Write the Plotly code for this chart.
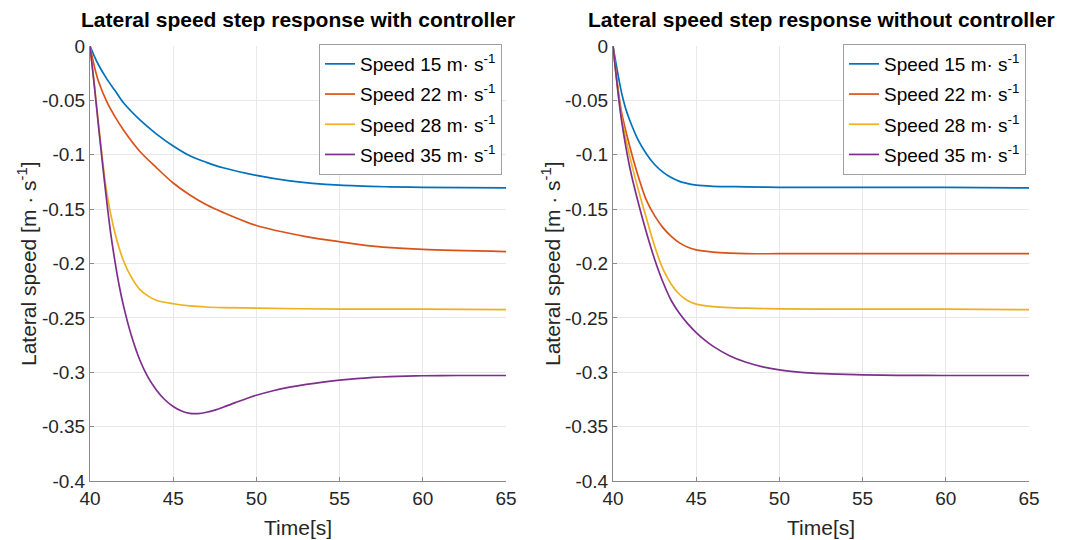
import plotly.graph_objects as go

# ---------------- data ----------------
speeds = ["15", "22", "28", "35"]
colors = ["#0072BD", "#D95319", "#EDB120", "#7E2F8E"]

# With controller
t_w15 = [40, 40.25, 40.5, 41, 41.5, 42, 43, 44, 45, 46, 47, 48, 50, 52, 55, 58, 60, 65]
v_w15 = [0, -0.009, -0.017, -0.030, -0.041, -0.052, -0.068, -0.081, -0.092, -0.101, -0.107,
         -0.112, -0.119, -0.124, -0.128, -0.1295, -0.130, -0.1305]

t_w22 = [40, 40.25, 40.5, 41, 41.5, 42, 43, 44, 45, 46, 47, 48, 50, 52.9, 55, 57, 60, 65]
v_w22 = [0, -0.018, -0.032, -0.051, -0.065, -0.077, -0.097, -0.112, -0.126, -0.137, -0.146,
         -0.153, -0.165, -0.175, -0.180, -0.184, -0.187, -0.189]

t_w28 = [40, 40.25, 40.5, 40.75, 41, 41.5, 42, 42.5, 43, 43.5, 44, 45, 46, 47, 48, 50, 55, 60, 65]
v_w28 = [0, -0.034, -0.070, -0.104, -0.134, -0.172, -0.197, -0.213, -0.224, -0.230, -0.234,
         -0.237, -0.239, -0.240, -0.2405, -0.241, -0.242, -0.242, -0.2425]

t_w35 = [40, 40.25, 40.5, 40.75, 41, 41.25, 41.5, 41.75, 42, 42.5, 43, 43.5, 44, 44.5, 45, 45.5,
         46, 46.5, 47, 47.5, 48, 48.5, 49, 49.5, 50, 51, 52, 53, 54, 55, 56, 57, 58, 59, 60, 62, 65]
v_w35 = [0, -0.035, -0.072, -0.108, -0.142, -0.173, -0.198, -0.220, -0.238, -0.267, -0.289,
         -0.305, -0.3165, -0.3253, -0.3315, -0.3357, -0.3378, -0.338, -0.3368, -0.3348, -0.3322,
         -0.3293, -0.3264, -0.3237, -0.3212, -0.317, -0.3137, -0.3111, -0.309, -0.3073,
         -0.3059, -0.3048, -0.304, -0.3035, -0.3032, -0.303, -0.303]

# Without controller
t_n15 = [40, 40.25, 40.5, 40.75, 41, 41.5, 42, 42.5, 43, 43.5, 44, 44.5, 45, 46, 48, 50, 55, 60, 65]
v_n15 = [0, -0.022, -0.042, -0.057, -0.068, -0.086, -0.099, -0.109, -0.116, -0.121, -0.1245,
         -0.1265, -0.128, -0.129, -0.1295, -0.130, -0.130, -0.130, -0.1305]

t_n22 = [40, 40.25, 40.5, 41, 41.5, 42, 42.5, 43, 43.5, 44, 44.5, 45, 46, 47, 48, 50, 55, 60, 65]
v_n22 = [0, -0.033, -0.060, -0.092, -0.119, -0.1415, -0.156, -0.167, -0.175, -0.181, -0.185,
         -0.1875, -0.1895, -0.1905, -0.191, -0.191, -0.191, -0.191, -0.191]

t_n28 = [40, 40.25, 40.5, 41, 41.5, 42, 42.5, 43, 43.5, 44, 44.5, 45, 45.5, 46, 47, 48, 50, 55, 60, 65]
v_n28 = [0, -0.035, -0.064, -0.101, -0.131, -0.158, -0.184, -0.205, -0.219, -0.2285, -0.2343,
         -0.2373, -0.2388, -0.2396, -0.2405, -0.241, -0.2417, -0.242, -0.242, -0.2425]

t_n35 = [40, 40.25, 40.5, 41, 41.5, 42, 42.5, 43, 43.5, 44, 44.5, 45, 45.5, 46, 47, 48, 49, 50,
         51, 52, 53, 54, 55, 57, 60, 65]
v_n35 = [0, -0.036, -0.067, -0.111, -0.143, -0.171, -0.196, -0.217, -0.234, -0.246, -0.2555,
         -0.2635, -0.2703, -0.276, -0.2848, -0.2908, -0.295, -0.2978, -0.2996, -0.3008,
         -0.3015, -0.302, -0.3024, -0.3028, -0.303, -0.303]

with_ctrl = [(t_w15, v_w15), (t_w22, v_w22), (t_w28, v_w28), (t_w35, v_w35)]
without_ctrl = [(t_n15, v_n15), (t_n22, v_n22), (t_n28, v_n28), (t_n35, v_n35)]

x_ticks = [40, 45, 50, 55, 60, 65]
y_ticks = [0, -0.05, -0.1, -0.15, -0.2, -0.25, -0.3, -0.35, -0.4]
y_tick_text = ["0", "-0.05", "-0.1", "-0.15", "-0.2", "-0.25", "-0.3", "-0.35", "-0.4"]

titles = ["Lateral speed step response with controller",
          "Lateral speed step response without controller"]

# ---------------- figure ----------------
W, H = 1067, 540
FONT = "Liberation Sans, Arial, sans-serif"
fig = go.Figure()

for i, (t, v) in enumerate(with_ctrl):
    fig.add_trace(go.Scatter(x=t, y=v, mode="lines",
                             line=dict(color=colors[i], width=1.7, shape="spline", smoothing=0.8),
                             name=f"Speed {speeds[i]} m· s<sup>-1</sup>",
                             legendgroup=f"a{i}",
                             xaxis="x", yaxis="y", legend="legend"))
for i, (t, v) in enumerate(without_ctrl):
    fig.add_trace(go.Scatter(x=t, y=v, mode="lines",
                             line=dict(color=colors[i], width=1.7, shape="spline", smoothing=0.8),
                             name=f"Speed {speeds[i]} m· s<sup>-1</sup>",
                             legendgroup=f"b{i}",
                             xaxis="x2", yaxis="y2", legend="legend2"))

x_dom = [[90 / W, 506 / W], [613 / W, 1029 / W]]
y_dom = [1 - 481 / H, 1 - 46 / H]

axis_common = dict(showgrid=True, gridcolor="#e8e8e8", gridwidth=1,
                   showline=True, linecolor="#8a8a8a", linewidth=1,
                   ticks="inside", ticklen=4, tickcolor="#8a8a8a",
                   tickfont=dict(family=FONT, size=19, color="#262626"),
                   zeroline=False, mirror=False, automargin=False)

layout = dict(width=W, height=H,
              margin=dict(l=0, r=0, t=0, b=0, pad=0, autoexpand=False),
              paper_bgcolor="white", plot_bgcolor="white",
              showlegend=True, font=dict(family=FONT, color="#262626"))

for k in range(2):
    sx = "" if k == 0 else "2"
    layout["xaxis" + sx] = dict(axis_common, domain=x_dom[k], range=[40, 65],
                                tickvals=x_ticks, anchor="y" + sx)
    layout["yaxis" + sx] = dict(axis_common, domain=y_dom, range=[-0.4, 0],
                                tickvals=y_ticks, ticktext=y_tick_text, anchor="x" + sx)

leg_common = dict(bgcolor="white", bordercolor="#a0a0a0", borderwidth=1,
                  font=dict(family=FONT, size=19, color="black"),
                  xanchor="left", yanchor="top", itemwidth=30, tracegroupgap=2.5)
layout["legend"] = dict(leg_common, x=319 / W, y=1 - 44 / H)
layout["legend2"] = dict(leg_common, x=843 / W, y=1 - 44 / H)

fig.update_layout(**layout)

annotations = []
for k in range(2):
    cx = (x_dom[k][0] + x_dom[k][1]) / 2
    annotations.append(dict(text=f"<b>{titles[k]}</b>", x=cx, y=1 - 19 / H, xref="paper", yref="paper",
                            showarrow=False, xanchor="center", yanchor="middle",
                            font=dict(family=FONT, size=21, color="black")))
    annotations.append(dict(text="Time[s]", x=cx, y=1 - 527 / H, xref="paper", yref="paper",
                            showarrow=False, xanchor="center", yanchor="middle",
                            font=dict(family=FONT, size=21, color="#262626")))
    ylab_x = 27 if k == 0 else 551
    annotations.append(dict(text="Lateral speed [m · s<sup>-1</sup>]", x=ylab_x / W, y=1 - 264 / H,
                            xref="paper", yref="paper", showarrow=False, textangle=-90,
                            xanchor="center", yanchor="middle",
                            font=dict(family=FONT, size=21, color="#262626")))
fig.update_layout(annotations=annotations)

fig.write_html("out.html")
